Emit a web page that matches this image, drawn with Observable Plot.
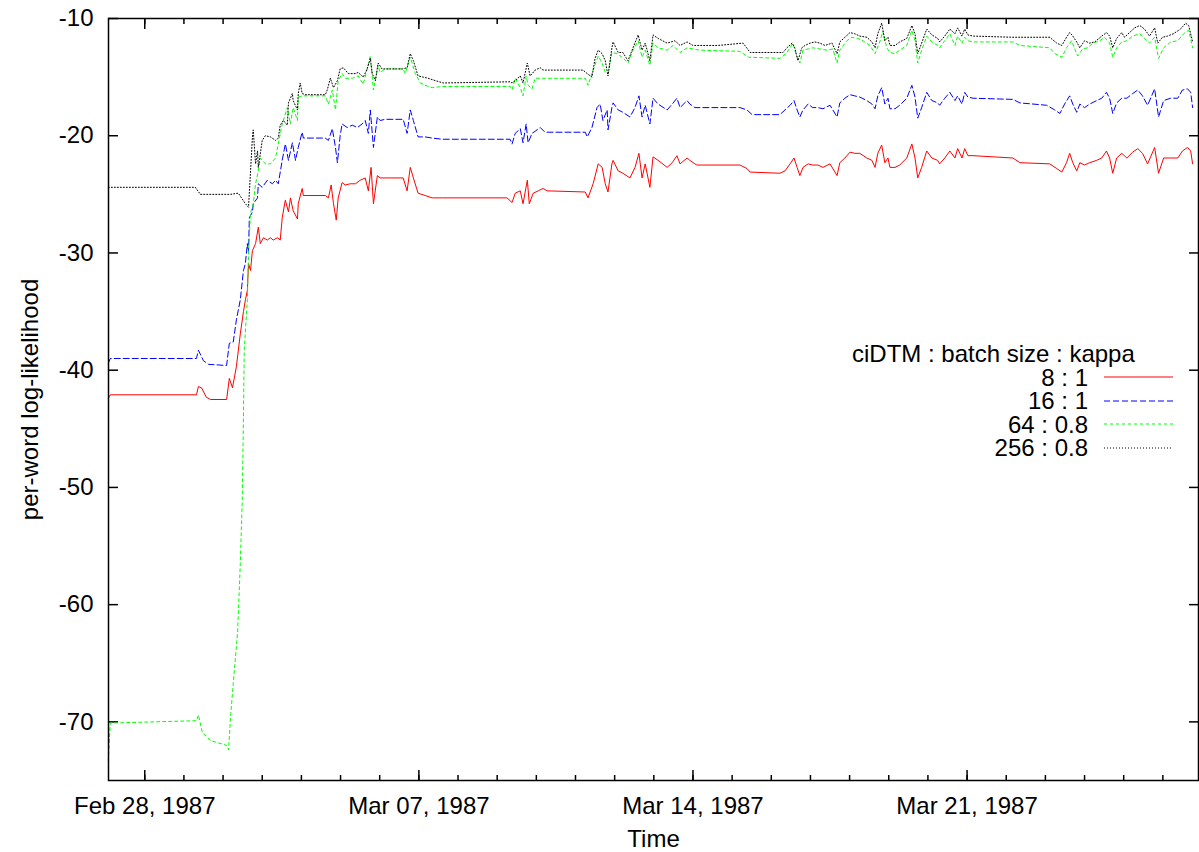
<!DOCTYPE html>
<html><head><meta charset="utf-8">
<script src="https://cdn.jsdelivr.net/npm/d3@7"></script>
<script src="https://cdn.jsdelivr.net/npm/@observablehq/plot@0.6"></script>
<style>
body{margin:0;background:#fff;}
#wrap{position:relative;width:1199px;height:852px;font-family:"Liberation Sans",Arial,sans-serif;color:#000;}
#legend{position:absolute;left:852px;top:342px;font-size:24px;line-height:23.5px;}
#legend .row{display:flex;align-items:center;height:23.5px;}
#legend .lab{width:236px;text-align:right;}
#legend svg{margin-left:16px;}
</style></head>
<body><div id="wrap"><div id="chart"></div><div id="legend"></div></div>
<script>
// Time in days relative to Feb 28, 1987 00:00; value = per-word log-likelihood
const red8 = [[-0.93,-42.4],[-0.88,-42.1],[1.32,-42.1],[1.37,-41.4],[1.45,-41.5],[1.57,-42.3],[1.68,-42.5],[2.09,-42.5],[2.16,-40.7],[2.24,-41.5],[2.34,-39.7],[2.44,-36.9],[2.52,-35.0],[2.57,-34.0],[2.62,-33.2],[2.65,-30.9],[2.70,-31.5],[2.75,-29.8],[2.83,-29.2],[2.90,-27.8],[2.95,-29.2],[3.03,-28.7],[3.13,-28.9],[3.21,-28.7],[3.28,-28.9],[3.39,-28.7],[3.46,-28.9],[3.51,-27.0],[3.59,-25.5],[3.67,-26.5],[3.72,-25.3],[3.79,-26.4],[3.90,-27.1],[3.92,-25.8],[4.02,-24.5],[4.05,-25.1],[4.61,-25.1],[4.69,-25.3],[4.76,-24.2],[4.82,-25.8],[4.89,-27.2],[4.94,-25.3],[5.04,-24.0],[5.12,-24.2],[5.25,-24.1],[5.38,-24.1],[5.50,-23.8],[5.63,-23.6],[5.71,-24.7],[5.78,-22.7],[5.84,-25.8],[5.94,-23.4],[6.01,-23.6],[6.14,-23.6],[6.60,-23.6],[6.70,-24.7],[6.78,-22.7],[6.86,-23.6],[6.98,-24.9],[7.16,-25.1],[7.34,-25.3],[7.60,-25.3],[9.25,-25.3],[9.38,-25.7],[9.46,-24.9],[9.59,-24.7],[9.66,-25.8],[9.77,-23.8],[9.82,-25.8],[9.92,-24.9],[10.05,-24.7],[10.17,-24.5],[10.28,-24.7],[11.25,-24.8],[11.32,-25.3],[11.45,-24.1],[11.58,-22.4],[11.68,-22.7],[11.76,-24.1],[11.83,-24.8],[11.93,-22.4],[11.96,-22.1],[12.09,-23.0],[12.21,-23.2],[12.39,-23.6],[12.52,-22.7],[12.62,-21.5],[12.70,-23.6],[12.78,-22.4],[12.90,-24.4],[12.98,-21.8],[13.11,-22.1],[13.34,-22.7],[13.47,-22.3],[13.59,-21.7],[13.67,-22.4],[13.85,-21.9],[13.92,-22.1],[14.05,-22.4],[14.10,-22.5],[15.20,-22.5],[15.38,-22.8],[15.46,-23.1],[16.22,-23.2],[16.35,-23.0],[16.48,-22.4],[16.58,-21.9],[16.66,-22.7],[16.73,-23.4],[16.81,-22.7],[16.94,-22.4],[17.06,-22.5],[17.19,-22.5],[17.32,-22.7],[17.50,-22.4],[17.68,-23.4],[17.75,-22.3],[17.88,-21.9],[18.01,-21.4],[18.13,-21.5],[18.26,-21.5],[18.44,-21.9],[18.57,-22.1],[18.65,-22.7],[18.72,-21.5],[18.82,-20.8],[18.90,-22.3],[18.98,-21.9],[19.03,-22.7],[19.16,-22.7],[19.28,-22.5],[19.46,-21.9],[19.59,-20.7],[19.67,-21.9],[19.74,-23.6],[19.84,-22.7],[19.97,-21.3],[20.10,-21.9],[20.25,-22.1],[20.30,-22.4],[20.43,-21.9],[20.56,-21.3],[20.69,-21.9],[20.76,-21.1],[20.87,-21.9],[20.94,-21.1],[21.02,-21.7],[21.15,-21.7],[22.17,-21.9],[22.35,-22.3],[23.11,-22.4],[23.29,-22.8],[23.42,-23.1],[23.54,-22.3],[23.62,-21.5],[23.70,-22.3],[23.80,-23.0],[23.88,-22.3],[24.00,-22.5],[24.13,-22.3],[24.31,-22.1],[24.44,-21.9],[24.56,-21.3],[24.64,-21.9],[24.72,-23.2],[24.82,-21.9],[24.95,-21.5],[25.08,-21.9],[25.23,-21.4],[25.36,-21.1],[25.48,-21.5],[25.61,-22.4],[25.79,-21.0],[25.89,-23.2],[26.02,-21.9],[26.20,-21.9],[26.38,-21.9],[26.50,-21.3],[26.63,-21.0],[26.71,-21.3],[26.76,-22.4]];

const blue16 = [[-0.93,-39.4],[-0.88,-39.0],[1.32,-39.0],[1.37,-38.3],[1.50,-39.2],[1.63,-39.5],[2.09,-39.6],[2.16,-37.7],[2.26,-37.6],[2.34,-35.7],[2.44,-34.0],[2.52,-31.5],[2.57,-30.9],[2.62,-29.2],[2.65,-30.0],[2.67,-27.0],[2.75,-26.5],[2.77,-25.8],[2.88,-25.3],[2.90,-24.1],[3.00,-24.4],[3.13,-23.8],[3.26,-24.1],[3.34,-23.8],[3.41,-24.1],[3.51,-22.1],[3.59,-20.7],[3.67,-22.1],[3.77,-20.6],[3.85,-22.1],[3.92,-21.0],[4.02,-19.7],[4.05,-20.2],[4.61,-20.2],[4.69,-20.4],[4.79,-19.4],[4.87,-21.0],[4.92,-22.3],[4.99,-20.0],[5.04,-19.0],[5.17,-19.3],[5.30,-19.1],[5.43,-19.3],[5.55,-19.0],[5.63,-18.7],[5.71,-19.8],[5.76,-17.8],[5.84,-21.0],[5.94,-18.4],[6.01,-18.7],[6.14,-18.6],[6.60,-18.6],[6.70,-19.8],[6.78,-17.8],[6.86,-18.7],[6.98,-20.1],[7.16,-20.1],[7.34,-20.2],[7.60,-20.3],[9.33,-20.3],[9.38,-20.7],[9.46,-19.8],[9.59,-19.4],[9.66,-20.6],[9.74,-19.0],[9.79,-20.6],[9.89,-19.8],[10.02,-19.5],[10.10,-19.3],[10.22,-19.7],[11.25,-19.7],[11.30,-20.1],[11.42,-19.3],[11.55,-17.6],[11.63,-17.3],[11.70,-18.7],[11.81,-17.8],[11.83,-19.5],[11.93,-17.6],[11.96,-17.2],[12.09,-17.8],[12.21,-18.0],[12.39,-18.4],[12.52,-17.6],[12.62,-16.6],[12.70,-18.4],[12.78,-17.4],[12.90,-19.0],[12.98,-16.8],[13.11,-17.3],[13.34,-17.8],[13.47,-17.3],[13.59,-16.8],[13.67,-17.6],[13.85,-17.0],[13.92,-17.3],[14.05,-17.6],[15.20,-17.6],[15.38,-17.8],[15.51,-18.2],[16.22,-18.2],[16.35,-17.8],[16.48,-17.4],[16.58,-17.0],[16.66,-17.8],[16.73,-18.4],[16.81,-17.8],[16.94,-17.3],[17.06,-17.6],[17.19,-17.6],[17.32,-17.7],[17.50,-17.4],[17.68,-18.4],[17.75,-17.2],[17.88,-16.8],[18.01,-16.5],[18.13,-16.6],[18.26,-16.7],[18.44,-17.0],[18.57,-17.3],[18.65,-17.7],[18.72,-16.6],[18.82,-15.9],[18.90,-17.3],[18.98,-16.8],[19.03,-17.7],[19.16,-17.7],[19.28,-17.4],[19.46,-16.8],[19.59,-15.7],[19.67,-16.7],[19.74,-18.5],[19.84,-17.6],[19.97,-16.3],[20.10,-17.0],[20.25,-17.2],[20.30,-17.4],[20.43,-16.8],[20.56,-16.3],[20.69,-17.0],[20.76,-16.6],[20.87,-17.3],[20.94,-16.3],[21.02,-16.7],[21.15,-16.8],[22.17,-16.9],[22.35,-17.2],[23.03,-17.4],[23.24,-17.8],[23.37,-18.1],[23.49,-17.3],[23.62,-16.6],[23.70,-17.3],[23.80,-18.0],[23.88,-17.3],[24.00,-17.6],[24.13,-17.3],[24.31,-17.0],[24.44,-16.8],[24.56,-16.3],[24.64,-16.8],[24.72,-18.1],[24.82,-17.2],[24.95,-16.8],[25.08,-16.8],[25.23,-16.4],[25.36,-16.1],[25.48,-16.6],[25.61,-17.4],[25.79,-16.0],[25.89,-18.4],[26.02,-17.0],[26.20,-16.8],[26.38,-16.8],[26.50,-16.1],[26.63,-16.0],[26.71,-16.3],[26.76,-17.6]];

const green64 = [[-0.93,-73.3],[-0.88,-70.1],[1.32,-69.9],[1.37,-69.4],[1.47,-70.9],[1.68,-71.6],[2.09,-72.0],[2.14,-72.4],[2.19,-69.6],[2.26,-66.7],[2.37,-62.4],[2.44,-56.5],[2.49,-51.1],[2.52,-44.0],[2.54,-38.3],[2.62,-34.0],[2.65,-30.0],[2.70,-26.6],[2.77,-25.8],[2.83,-24.1],[2.90,-23.0],[2.95,-21.9],[3.08,-22.4],[3.21,-22.4],[3.34,-21.9],[3.41,-20.7],[3.51,-19.0],[3.64,-17.6],[3.72,-19.0],[3.79,-17.6],[3.90,-18.7],[3.92,-16.7],[4.02,-16.6],[4.61,-16.6],[4.69,-17.3],[4.79,-16.1],[4.87,-17.8],[4.94,-15.3],[5.04,-14.7],[5.12,-15.1],[5.30,-15.1],[5.45,-14.9],[5.58,-15.6],[5.68,-14.3],[5.76,-13.2],[5.84,-16.1],[5.96,-14.0],[6.01,-14.6],[6.14,-14.3],[6.60,-14.3],[6.65,-14.7],[6.78,-13.3],[6.91,-14.7],[7.04,-15.5],[7.16,-15.7],[7.34,-15.9],[7.60,-15.8],[9.33,-15.8],[9.38,-16.1],[9.46,-15.1],[9.59,-15.9],[9.66,-16.6],[9.74,-14.9],[9.79,-15.7],[9.89,-16.0],[9.97,-15.1],[10.10,-15.1],[11.25,-15.1],[11.32,-15.7],[11.45,-14.4],[11.58,-13.2],[11.68,-13.8],[11.76,-14.6],[11.83,-14.7],[11.93,-12.9],[12.06,-13.0],[12.19,-13.3],[12.34,-13.8],[12.47,-12.7],[12.60,-11.9],[12.70,-13.3],[12.78,-12.7],[12.90,-14.0],[12.98,-12.1],[13.11,-12.5],[13.34,-12.7],[13.49,-12.3],[13.67,-12.9],[13.85,-12.5],[14.00,-12.6],[14.18,-12.7],[15.20,-12.8],[15.41,-13.3],[16.22,-13.4],[16.40,-12.9],[16.55,-12.1],[16.66,-13.3],[16.73,-13.8],[16.81,-12.7],[16.94,-12.6],[17.06,-12.5],[17.24,-12.6],[17.42,-12.7],[17.57,-12.6],[17.68,-13.8],[17.75,-12.7],[17.93,-11.9],[18.06,-11.6],[18.21,-11.7],[18.34,-11.9],[18.52,-12.3],[18.65,-13.0],[18.77,-12.0],[18.85,-11.1],[18.95,-12.5],[19.03,-12.9],[19.16,-13.0],[19.28,-12.7],[19.46,-12.3],[19.59,-11.0],[19.67,-11.9],[19.74,-13.8],[19.84,-12.7],[19.97,-11.5],[20.10,-12.0],[20.25,-12.3],[20.30,-12.5],[20.43,-11.9],[20.56,-11.3],[20.69,-12.3],[20.76,-11.5],[20.87,-12.1],[20.94,-11.6],[21.02,-11.9],[21.15,-12.0],[22.17,-12.0],[22.35,-12.3],[23.11,-12.5],[23.24,-13.0],[23.42,-13.3],[23.54,-12.5],[23.67,-11.9],[23.75,-12.6],[23.83,-13.2],[23.95,-12.6],[24.08,-12.5],[24.21,-12.1],[24.39,-11.9],[24.51,-11.6],[24.64,-12.1],[24.72,-13.3],[24.82,-12.5],[24.95,-12.0],[25.08,-11.9],[25.23,-11.5],[25.41,-11.3],[25.53,-11.7],[25.66,-12.1],[25.79,-11.6],[25.89,-13.4],[26.02,-12.5],[26.20,-12.0],[26.38,-11.9],[26.53,-11.3],[26.66,-11.0],[26.76,-12.5]];

const black256 = [[-0.93,-24.4],[1.29,-24.4],[1.42,-25.0],[2.19,-25.0],[2.39,-24.9],[2.57,-25.8],[2.65,-26.1],[2.75,-20.1],[2.77,-19.5],[2.83,-22.4],[2.88,-21.3],[2.90,-22.7],[3.00,-20.4],[3.08,-20.0],[3.21,-20.1],[3.34,-20.4],[3.41,-20.2],[3.46,-19.1],[3.54,-18.7],[3.64,-19.1],[3.67,-17.2],[3.77,-16.4],[3.79,-17.0],[3.90,-17.8],[3.92,-16.4],[3.97,-15.5],[4.02,-16.4],[4.10,-16.5],[4.61,-16.5],[4.66,-16.1],[4.74,-15.1],[4.82,-15.9],[4.92,-15.3],[4.99,-14.3],[5.07,-14.2],[5.20,-14.7],[5.38,-14.7],[5.45,-14.6],[5.58,-15.0],[5.68,-14.3],[5.76,-13.4],[5.81,-14.7],[5.89,-15.3],[5.96,-13.8],[6.06,-14.3],[6.14,-14.3],[6.58,-14.3],[6.70,-14.2],[6.78,-13.0],[6.86,-13.6],[6.98,-14.9],[7.11,-15.0],[7.24,-15.1],[7.42,-15.3],[7.62,-15.5],[9.33,-15.4],[9.38,-15.5],[9.46,-15.3],[9.59,-14.9],[9.66,-15.5],[9.77,-13.8],[9.84,-14.9],[9.97,-14.4],[10.10,-14.2],[10.17,-14.4],[11.19,-14.4],[11.30,-14.7],[11.42,-15.0],[11.50,-13.4],[11.58,-12.7],[11.68,-13.0],[11.76,-13.6],[11.83,-14.9],[11.93,-12.5],[11.96,-12.0],[12.09,-12.9],[12.21,-12.9],[12.34,-13.6],[12.47,-12.5],[12.60,-11.4],[12.70,-12.7],[12.78,-12.1],[12.90,-13.6],[12.98,-11.4],[13.11,-11.7],[13.34,-12.1],[13.54,-11.9],[13.67,-12.3],[13.85,-12.0],[14.00,-12.3],[14.05,-12.3],[14.64,-12.3],[15.28,-12.1],[15.46,-12.9],[16.30,-12.9],[16.40,-12.5],[16.53,-12.1],[16.60,-12.5],[16.68,-13.6],[16.78,-12.5],[16.86,-12.3],[16.99,-12.1],[17.11,-12.0],[17.24,-12.1],[17.37,-12.3],[17.55,-12.1],[17.68,-13.0],[17.75,-12.0],[17.88,-11.6],[18.01,-11.2],[18.13,-11.3],[18.26,-11.5],[18.44,-11.6],[18.57,-12.0],[18.65,-12.5],[18.72,-11.3],[18.82,-10.4],[18.90,-11.9],[18.98,-11.6],[19.03,-12.3],[19.16,-12.3],[19.28,-12.0],[19.46,-11.7],[19.59,-10.6],[19.67,-11.3],[19.74,-13.0],[19.84,-12.1],[19.97,-10.9],[20.10,-11.4],[20.25,-11.7],[20.30,-12.0],[20.43,-11.5],[20.56,-10.9],[20.69,-11.3],[20.76,-10.8],[20.87,-11.5],[20.94,-10.9],[21.02,-11.4],[21.15,-11.5],[22.17,-11.6],[23.11,-11.6],[23.29,-12.1],[23.42,-12.3],[23.54,-11.6],[23.62,-11.2],[23.70,-11.5],[23.80,-12.0],[23.88,-12.5],[24.00,-11.9],[24.13,-12.1],[24.26,-12.0],[24.44,-11.5],[24.56,-11.2],[24.64,-11.5],[24.72,-12.5],[24.82,-11.7],[24.95,-11.2],[25.02,-11.6],[25.15,-11.2],[25.28,-10.8],[25.41,-10.6],[25.53,-10.9],[25.66,-11.5],[25.79,-10.8],[25.87,-12.1],[25.99,-11.6],[26.12,-11.5],[26.27,-11.3],[26.45,-10.9],[26.58,-10.4],[26.66,-10.6],[26.76,-12.0]];

const seriesNames = ["8 : 1", "16 : 1", "64 : 0.8", "256 : 0.8"];
const seriesColors = ["#ff0000", "#0000ff", "#00ff00", "#000000"];
const seriesDashes = [null, "6,3", "3,3", "1,2"];
const seriesData = [red8, blue16, green64, black256];
const yTicks = [-10, -20, -30, -40, -50, -60, -70];
const majorTickDays = [0, 7, 14, 21];
const xDomainDays = [-0.926, 26.91];
const yDomain = [-75, -10];
const legendTitle = "ciDTM : batch size : kappa";

const base = Date.UTC(1987, 1, 28);
const toDate = d => new Date(base + d * 864e5);
const minorTicks = d3.range(0, 27).map(toDate);
const majorTicks = majorTickDays.map(toDate);
const fmt = d3.utcFormat("%b %d, %Y");

const lines = seriesData.map((data, i) => Plot.line(data, {
  x: d => toDate(d[0]), y: d => d[1],
  stroke: seriesColors[i], strokeWidth: 1,
  strokeDasharray: seriesDashes[i] || undefined
}));

const chart = Plot.plot({
  width: 1199, height: 852,
  marginLeft: 108, marginRight: 1, marginTop: 18, marginBottom: 72,
  style: {fontSize: "24px", fontFamily: "'Liberation Sans', Arial, sans-serif", background: "#fff", color: "#000"},
  x: {type: "utc", domain: xDomainDays.map(toDate)},
  y: {domain: yDomain},
  marks: [
    Plot.axisY({anchor: "left", ticks: yTicks, tickSize: -10, tickPadding: 25, strokeWidth: 1.5,
      tickFormat: d => String(d), label: "per-word log-likelihood", labelAnchor: "center", labelArrow: "none", labelOffset: 88}),
    Plot.axisY({anchor: "right", ticks: yTicks, tickSize: -10, strokeWidth: 1.5, tickFormat: () => "", label: null}),
    Plot.axisX({anchor: "bottom", ticks: minorTicks, tickSize: -5, strokeWidth: 1.5, tickFormat: () => "", label: null}),
    Plot.axisX({anchor: "top", ticks: minorTicks, tickSize: -5, strokeWidth: 1.5, tickFormat: () => "", label: null}),
    Plot.axisX({anchor: "bottom", ticks: majorTicks, tickSize: -10, tickPadding: 26, strokeWidth: 1.5,
      tickFormat: fmt, label: "Time", labelAnchor: "center", labelArrow: "none", labelOffset: 66}),
    Plot.axisX({anchor: "top", ticks: majorTicks, tickSize: -10, strokeWidth: 1.5, tickFormat: () => "", label: null}),
    ...lines,
    Plot.frame({stroke: "#000", strokeWidth: 1.5})
  ]
});
document.getElementById("chart").appendChild(chart);

// legend
const legend = document.getElementById("legend");
const t = document.createElement("div");
t.textContent = legendTitle;
legend.appendChild(t);
seriesNames.forEach((name, i) => {
  const row = document.createElement("div");
  row.className = "row";
  const lab = document.createElement("span");
  lab.className = "lab";
  lab.textContent = name;
  row.appendChild(lab);
  const svg = d3.create("svg").attr("width", 69).attr("height", 10);
  svg.append("line").attr("x1", 0).attr("x2", 69).attr("y1", 5).attr("y2", 5)
    .attr("stroke", seriesColors[i]).attr("stroke-width", 1)
    .attr("stroke-dasharray", seriesDashes[i]);
  row.appendChild(svg.node());
  legend.appendChild(row);
});
</script></body></html>
